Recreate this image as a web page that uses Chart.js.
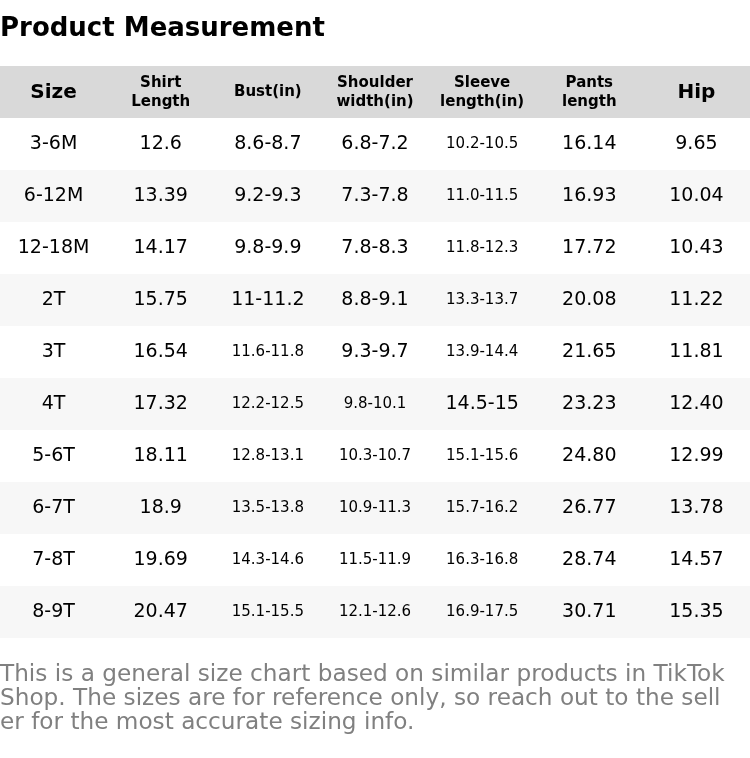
<!DOCTYPE html>
<html><head><meta charset="utf-8">
<script src="https://cdn.jsdelivr.net/npm/chart.js@4"></script>
<style>
html,body{margin:0;padding:0;background:#fff;width:750px;height:758px;overflow:hidden;font-family:"DejaVu Sans",sans-serif}
#title{position:absolute;left:0;top:12px;font-size:26px;font-weight:bold;color:#000}
#foot{position:absolute;left:0;top:661px;width:760px;font-size:23.2px;line-height:24px;color:#808080;white-space:nowrap}
#wrap{position:absolute;left:0;top:0;width:750px;height:758px}
</style></head><body>
<div id="wrap"><canvas id="c" width="750" height="758"></canvas></div>
<div id="title">Product Measurement</div>
<div id="foot">This is a general size chart based on similar products in TikTok<br>Shop. The sizes are for reference only, so reach out to the sell<br>er for the most accurate sizing info.</div>
<script>
const headers = ["Size","Shirt\nLength","Bust(in)","Shoulder\nwidth(in)","Sleeve\nlength(in)","Pants\nlength","Hip"];
const sizes = ["3-6M","6-12M","12-18M","2T","3T","4T","5-6T","6-7T","7-8T","8-9T"];
const shirtLength = ["12.6","13.39","14.17","15.75","16.54","17.32","18.11","18.9","19.69","20.47"];
const bust = ["8.6-8.7","9.2-9.3","9.8-9.9","11-11.2","11.6-11.8","12.2-12.5","12.8-13.1","13.5-13.8","14.3-14.6","15.1-15.5"];
const shoulder = ["6.8-7.2","7.3-7.8","7.8-8.3","8.8-9.1","9.3-9.7","9.8-10.1","10.3-10.7","10.9-11.3","11.5-11.9","12.1-12.6"];
const sleeve = ["10.2-10.5","11.0-11.5","11.8-12.3","13.3-13.7","13.9-14.4","14.5-15","15.1-15.6","15.7-16.2","16.3-16.8","16.9-17.5"];
const pants = ["16.14","16.93","17.72","20.08","21.65","23.23","24.80","26.77","28.74","30.71"];
const hip = ["9.65","10.04","10.43","11.22","11.81","12.40","12.99","13.78","14.57","15.35"];

const columns = [sizes, shirtLength, bust, shoulder, sleeve, pants, hip];
const rowKeys = ["header"].concat(sizes);
const colKeys = headers.map((h,i)=>"c"+i);

const tablePlugin = {
  id:'table',
  beforeDatasetsDraw(chart){
    const ctx = chart.ctx, xs = chart.scales.x, ys = chart.scales.y;
    const left = chart.chartArea.left, right = chart.chartArea.right;
    const rh = ys.getPixelForValue(1) - ys.getPixelForValue(0);
    ctx.save();
    rowKeys.forEach((k,r)=>{
      const cy = ys.getPixelForValue(r);
      let fill = null;
      if (r===0) fill = "#d9d9d9"; else if (r%2===0) fill = "#f7f7f7";
      if (fill){ ctx.fillStyle = fill; ctx.fillRect(left, cy-rh/2, right-left, rh); }
    });
    ctx.textAlign = "center"; ctx.textBaseline = "middle"; ctx.fillStyle = "#000";
    headers.forEach((h,c)=>{
      const cx = xs.getPixelForValue(c), cy = ys.getPixelForValue(0);
      const lines = h.split("\n");
      if (lines.length===1 && (h==="Size"||h==="Hip")){
        ctx.font = "bold 20px 'DejaVu Sans'"; ctx.fillText(h,cx,cy+1);
      } else if (lines.length===1){
        ctx.font = "bold 15px 'DejaVu Sans'"; ctx.fillText(h,cx,cy);
      } else {
        ctx.font = "bold 15px 'DejaVu Sans'";
        ctx.fillText(lines[0],cx,cy-9); ctx.fillText(lines[1],cx,cy+10);
      }
    });
    columns.forEach((col,c)=>{
      const cx = xs.getPixelForValue(c);
      col.forEach((v,i)=>{
        const cy = ys.getPixelForValue(i+1);
        ctx.font = (v.length>=8 ? "15px" : "19px") + " 'DejaVu Sans'";
        ctx.fillText(v,cx,cy);
      });
    });
    ctx.restore();
  }
};

new Chart(document.getElementById('c'),{
  type:'scatter',
  data:{datasets:[{data:[],pointRadius:0}]},
  options:{
    responsive:false, animation:false,
    layout:{padding:{left:0,right:0,top:66,bottom:120}},
    plugins:{legend:{display:false},tooltip:{enabled:false}},
    scales:{
      x:{type:'category',labels:colKeys,offset:true,display:false},
      y:{type:'category',labels:rowKeys,offset:true,display:false}
    }
  },
  plugins:[tablePlugin]
});
</script>
</body></html>
